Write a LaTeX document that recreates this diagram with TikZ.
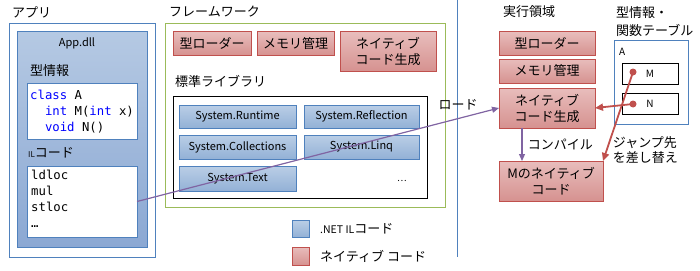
\documentclass[tikz,border=0pt]{standalone}
\usepackage{fontspec}
\setmainfont{Noto Sans CJK JP}
\newfontfamily\codefont{DejaVu Sans Mono}
\usepackage{xcolor}
\usetikzlibrary{arrows.meta,positioning}

\definecolor{rimred}{HTML}{C0504D}
\definecolor{rimblue}{HTML}{4F81BD}
\definecolor{rimgreen}{HTML}{9BBB59}
\definecolor{loadpurple}{HTML}{8064A2}
\definecolor{kwblue}{HTML}{0000FF}
\definecolor{nativetop}{HTML}{E8BDBC}
\definecolor{nativebot}{HTML}{D69290}
\definecolor{iltop}{HTML}{BACEE6}
\definecolor{ilbot}{HTML}{93B1D6}
\definecolor{dlltop}{HTML}{B5C9E3}
\definecolor{dllbot}{HTML}{8BA8D3}

\begin{document}
\begin{tikzpicture}[
    x=1pt, y=-1pt,
    panel/.style={draw, anchor=north west, inner sep=0pt, outer sep=0pt, line width=1pt},
    native/.style={panel, draw=rimred, top color=nativetop, bottom color=nativebot, align=center, font=\fontsize{13}{16}\selectfont},
    managed/.style={panel, draw=rimblue, top color=iltop, bottom color=ilbot, font=\fontsize{11}{13}\selectfont},
    caption/.style={anchor=west, inner sep=0pt, font=\fontsize{13}{15}\selectfont},
    code/.style={anchor=north west, inner sep=0pt, align=left, font=\codefont\fontsize{12.3}{16}\selectfont},
    loadarr/.style={draw=loadpurple, line width=1.2pt, -{Triangle[length=7pt,width=6pt]}},
    jumparr/.style={draw=rimred, line width=1.8pt, -{Triangle[length=8pt,width=7pt]}},
    dot/.style={circle, fill=rimred, inner sep=0pt, minimum size=7pt},
]
\useasboundingbox (0,0) rectangle (700,270);

% App side
\node[caption] (applbl) at (12,12) {アプリ};
\node[panel, draw=rimblue, minimum width=146pt, minimum height=233pt] (app) at (9,24) {};
\node[panel, draw=rimblue, top color=dlltop, bottom color=dllbot, minimum width=130pt, minimum height=215pt] (dll) at (17,32) {};
\node[font=\fontsize{11}{13}\selectfont] (dlllbl) at (77,43) {App.dll};
\node[caption] (typelbl) at (30,71) {型情報};
\node[panel, draw=rimblue, fill=white, minimum width=110pt, minimum height=56pt] (classbox) at (27,83) {};
\node[code] (classcode) at (30,90) {\textcolor{kwblue}{class} A\\
  \phantom{cl}\textcolor{kwblue}{int} M(\textcolor{kwblue}{int} x)\\
  \phantom{cl}\textcolor{kwblue}{void} N()};
\node[caption] (illbl) at (28,153) {{\fontsize{8}{8}\selectfont IL}コード};
\node[panel, draw=rimblue, fill=white, minimum width=110pt, minimum height=71pt] (ilbox) at (27,166) {};
\node[code] (ilcode) at (31,170) {ldloc\\mul\\stloc\\…};

% Framework
\node[caption] (fwlbl) at (169,12) {フレームワーク};
\node[panel, draw=rimgreen, minimum width=280pt, minimum height=183pt] (fw) at (165,24) {};
\node[native, minimum width=78pt, minimum height=23pt] (fwload) at (173,32) {型ローダー};
\node[native, minimum width=77pt, minimum height=23pt] (fwmem) at (257,32) {メモリ管理};
\node[native, minimum width=96pt, minimum height=39pt] (fwgen) at (340,32) {ネイティブ\\コード生成};
\node[caption] (stdlbl) at (175,81) {標準ライブラリ};
\node[panel, draw=black, minimum width=254pt, minimum height=102pt] (stdlib) at (173,96) {};
\node[managed, minimum width=117pt, minimum height=23pt] (runtime) at (179,105) {System.Runtime};
\node[managed, minimum width=115pt, minimum height=23pt] (reflection) at (304,105) {System.Reflection};
\node[managed, minimum width=117pt, minimum height=24pt] (collections) at (179,135) {System.Collections};
\node[managed, minimum width=115pt, minimum height=24pt] (linq) at (304,135) {System.Linq};
\node[managed, minimum width=117pt, minimum height=25pt] (systext) at (179,166) {System.Text};
\node[anchor=base, inner sep=0pt, font=\fontsize{9}{9}\selectfont] (more) at (402,181) {…};

% Legend
\node[managed, minimum width=17pt, minimum height=17pt] (ilkey) at (292,220) {};
\node[caption, right=11pt of ilkey] (ilkeylbl) {{\fontsize{10.5}{10.5}\selectfont .NET IL}コード};
\node[native, minimum width=17pt, minimum height=18pt] (nativekey) at (292,247) {};
\node[caption, right=11pt of nativekey] (nativekeylbl) {ネイティブ コード};

% Separator
\coordinate (septop) at (457,0);
\coordinate (sepbot) at (457,257);
\draw[rimblue, line width=1pt] (septop) -- (sepbot);

% Runtime side
\node[caption] (runlbl) at (503,12) {実行領域};
\node[native, minimum width=96pt, minimum height=23pt] (rtload) at (499,32) {型ローダー};
\node[native, minimum width=96pt, minimum height=24pt] (rtmem) at (499,59) {メモリ管理};
\node[native, minimum width=96pt, minimum height=40pt] (rtgen) at (499,88) {ネイティブ\\コード生成};
\node[native, minimum width=104pt, minimum height=40pt] (mcode) at (499,161) {Mのネイティブ\\コード};

% Type info / function table
\node[caption] (tbllbl1) at (616,13) {型情報・};
\node[caption] (tbllbl2) at (616,30) {関数テーブル};
\node[panel, draw=rimblue, minimum width=74pt, minimum height=83pt] (tbl) at (614,41) {};
\node[caption, font=\fontsize{10}{10}\selectfont] (tblA) at (619,52) {A};
\node[panel, draw=black, minimum width=56pt, minimum height=21pt] (mslot) at (622,63) {};
\node[panel, draw=black, minimum width=56pt, minimum height=21pt] (nslot) at (622,93) {};
\node[font=\fontsize{10}{10}\selectfont] (mname) at (650,74) {M};
\node[font=\fontsize{10}{10}\selectfont] (nname) at (650,104) {N};
\node[dot] (mdot) at (633,72) {};
\node[dot] (ndot) at (633,104) {};

% Connectors
\draw[loadarr] (ilbox.east) -- (rtgen.west)
    node[pos=0.887, above=5pt, font=\fontsize{13}{15}\selectfont] {ロード};
\draw[loadarr] ([xshift=-25pt]rtgen.south) -- ([xshift=-25pt]rtgen.south |- mcode.north)
    node[midway, right=2pt, font=\fontsize{13}{15}\selectfont] {コンパイル};
\draw[jumparr] (ndot.center) -- (rtgen.east);
\draw[jumparr] (mdot.center) -- (mcode.north east)
    node[pos=0.876, right=2pt, align=left, font=\fontsize{13}{15}\selectfont] {ジャンプ先\\を差し替え};
\end{tikzpicture}
\end{document}
